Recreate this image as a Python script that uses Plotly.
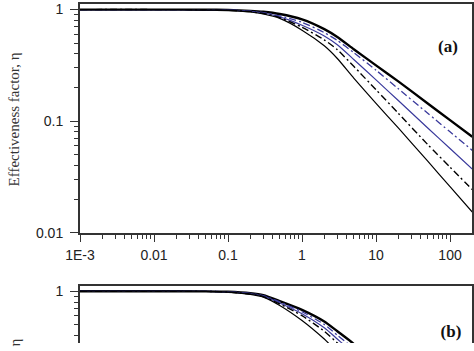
import plotly.graph_objects as go

# ---------------- data ----------------
x_a = [0.001, 0.01, 0.05, 0.1, 0.2, 0.3, 0.5, 1, 2, 3, 5, 10, 20, 50, 100, 200]

eta_a_thick    = [1, 1, 0.997, 0.992, 0.974, 0.956, 0.913, 0.817, 0.668, 0.568, 0.441, 0.316, 0.227, 0.144, 0.102, 0.0724]
eta_a_bluedd   = [1, 1, 0.997, 0.990, 0.968, 0.941, 0.877, 0.769, 0.622, 0.529, 0.411, 0.286, 0.195, 0.1175, 0.0801, 0.0546]
eta_a_blue     = [1, 1, 0.996, 0.988, 0.964, 0.932, 0.860, 0.724, 0.580, 0.483, 0.357, 0.234, 0.153, 0.0868, 0.0568, 0.0372]
eta_a_blackdd  = [1, 1, 0.996, 0.986, 0.958, 0.922, 0.847, 0.695, 0.535, 0.437, 0.310, 0.191, 0.1175, 0.0616, 0.0387, 0.0243]
eta_a_thin     = [1, 1, 0.995, 0.984, 0.951, 0.913, 0.834, 0.654, 0.473, 0.364, 0.243, 0.144, 0.0868, 0.0437, 0.0258, 0.0153]

x_b = [0.001, 0.01, 0.05, 0.1, 0.2, 0.3, 0.5, 1, 2, 3, 5, 10, 20, 50, 100, 200]
eta_b_thick    = [1, 1, 0.998, 0.990, 0.960, 0.922, 0.817, 0.681, 0.535, 0.437, 0.336, 0.21, 0.13, 0.065, 0.038, 0.022]
eta_b_bluedd   = [1, 1, 0.998, 0.988, 0.955, 0.913, 0.801, 0.654, 0.503, 0.403, 0.304, 0.18, 0.11, 0.052, 0.030, 0.017]
eta_b_blue     = [1, 1, 0.998, 0.986, 0.949, 0.904, 0.785, 0.628, 0.469, 0.372, 0.275, 0.16, 0.09, 0.042, 0.024, 0.013]
eta_b_blackdd  = [1, 1, 0.997, 0.984, 0.941, 0.895, 0.769, 0.603, 0.437, 0.343, 0.248, 0.14, 0.075, 0.034, 0.019, 0.010]
eta_b_thin     = [1, 1, 0.997, 0.982, 0.936, 0.886, 0.746, 0.546, 0.372, 0.286, 0.220, 0.12, 0.06, 0.027, 0.015, 0.008]

x_tickvals = [0.001, 0.01, 0.1, 1, 10, 100]
x_ticktext = ["1E-3", "0.01", "0.1", "1", "10", "100"]
y_tickvals = [0.01, 0.1, 1]
y_ticktext = ["0.01", "0.1", "1"]

# ---------------- styles ----------------
BLUE = "#3a3a9c"
DD = "7px,3px,2px,3px"
styles = [
    dict(color="black", width=2.4, dash="solid"),
    dict(color=BLUE, width=1.3, dash=DD),
    dict(color=BLUE, width=1.2, dash="solid"),
    dict(color="black", width=1.4, dash=DD),
    dict(color="black", width=1.2, dash="solid"),
]

fig = go.Figure()
series_a = [eta_a_thick, eta_a_bluedd, eta_a_blue, eta_a_blackdd, eta_a_thin]
series_b = [eta_b_thick, eta_b_bluedd, eta_b_blue, eta_b_blackdd, eta_b_thin]
for s, st in zip(series_a, styles):
    fig.add_trace(go.Scatter(x=x_a, y=s, mode="lines", line=dict(shape="spline", smoothing=0.6, **st),
                             xaxis="x", yaxis="y", showlegend=False, hoverinfo="skip"))
for s, st in zip(series_b, styles):
    fig.add_trace(go.Scatter(x=x_b, y=s, mode="lines", line=dict(shape="spline", smoothing=0.6, **st),
                             xaxis="x2", yaxis="y2", showlegend=False, hoverinfo="skip"))

AX = "#333333"
TICKFONT = dict(family="Liberation Sans, Arial, sans-serif", size=14, color="#222222")
minor = dict(ticks="outside", ticklen=4, tickwidth=1.2, tickcolor=AX, showgrid=False,
             tickmode="linear", dtick="D1")

W, H = 474, 351
L, R, T, B = 80, 1, 4, 0
PH = H - T - B

def py(p):
    return (H - B - p) / PH

fig.update_layout(
    width=W, height=H,
    margin=dict(l=L, r=R, t=T, b=B),
    paper_bgcolor="white", plot_bgcolor="white",
    xaxis=dict(type="log", range=[-3, 2.297], domain=[0, 1], anchor="y",
               showline=True, linecolor=AX, linewidth=2, mirror=True,
               ticks="outside", ticklen=7, tickwidth=1.4, tickcolor=AX,
               tickvals=x_tickvals, ticktext=x_ticktext, tickfont=TICKFONT,
               ticklabelstandoff=2,
               showgrid=False, zeroline=False, minor=minor),
    yaxis=dict(type="log", range=[-2, 0.05], domain=[py(238), 1], anchor="x",
               showline=True, linecolor=AX, linewidth=2, mirror=True,
               ticks="outside", ticklen=8, tickwidth=1.4, tickcolor=AX,
               tickvals=y_tickvals, ticktext=y_ticktext, tickfont=TICKFONT,
               ticklabelstandoff=4,
               showgrid=False, zeroline=False, minor=minor),
    xaxis2=dict(type="log", range=[-3, 2.297], domain=[0, 1], anchor="y2", side="top",
                showline=True, linecolor=AX, linewidth=2, mirror=False,
                ticks="", showticklabels=False, showgrid=False, zeroline=False),
    yaxis2=dict(type="log", range=[-0.465, 0.044], domain=[0, py(293)], anchor="x2",
                showline=True, linecolor=AX, linewidth=2, mirror=True,
                ticks="outside", ticklen=8, tickwidth=1.4, tickcolor=AX,
                tickvals=y_tickvals, ticktext=y_ticktext, tickfont=TICKFONT,
                ticklabelstandoff=4,
                showgrid=False, zeroline=False, minor=minor),
)

def px(p):
    return (p - L) / (W - L - R)

title_font = dict(family="Liberation Serif, Times New Roman, serif", size=15, color="#333333")
fig.add_annotation(text="Effectiveness factor, η", xref="paper", yref="paper",
                   x=px(14), y=py(122), textangle=-90, showarrow=False,
                   xanchor="center", yanchor="middle", font=title_font)
fig.add_annotation(text="Effectiveness factor, η", xref="paper", yref="paper",
                   x=px(14), y=py(415), textangle=-90, showarrow=False,
                   xanchor="center", yanchor="middle", font=title_font)
lab_font = dict(family="Liberation Serif, Times New Roman, serif", size=17, color="#111111")
fig.add_annotation(text="<b>(a)</b>", xref="paper", yref="paper", x=px(449), y=py(47),
                   showarrow=False, xanchor="center", yanchor="middle", font=lab_font)
# panel (b) label, placed inside the lower panel (annotations get clamped at the figure edge)
fig.add_trace(go.Scatter(x=[103], y=[0.42], mode="text", text=["<b>(b)</b>"],
                         textposition="middle center", textfont=lab_font, cliponaxis=False,
                         xaxis="x2", yaxis="y2", showlegend=False, hoverinfo="skip"))

fig.write_html("out.html", config={"displayModeBar": False},
               post_script="document.body.style.margin='0px';")
